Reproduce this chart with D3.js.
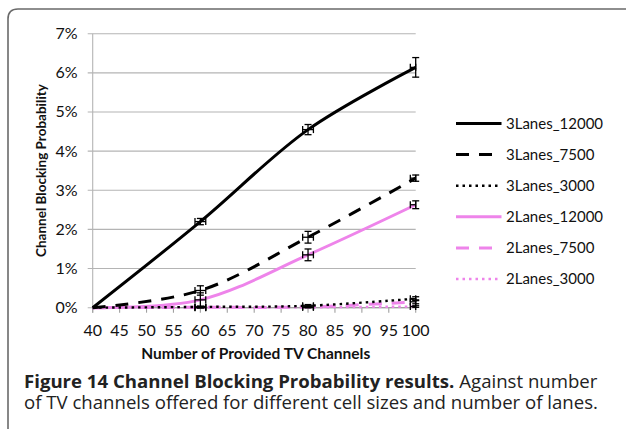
<!DOCTYPE html>
<html><head><meta charset="utf-8">
<script src="https://cdn.jsdelivr.net/npm/d3@7"></script>
<style>html,body{margin:0;padding:0;background:#fff;}svg{display:block;}</style>
</head><body>
<script>
const xValues = [40, 60, 80, 100];
const xTicks = [40,45,50,55,60,65,70,75,80,85,90,95,100];
const yTicks = [0,0.01,0.02,0.03,0.04,0.05,0.06,0.07];
const seriesNames = ["3Lanes_12000","3Lanes_7500","3Lanes_3000","2Lanes_12000","2Lanes_7500","2Lanes_3000"];
const s3L12000 = [0, 0.0220, 0.0455, 0.0614];
const s3L7500  = [0, 0.0044, 0.0180, 0.0331];
const s3L3000  = [0, 0.0002, 0.0005, 0.0023];
const s2L12000 = [0, 0.0020, 0.0135, 0.0263];
const s2L7500  = [0, 0.0001, 0.0002, 0.0015];
const s2L3000  = [0, 0.0000, 0.0001, 0.0003];
const e3L12000 = [0, 0.0008, 0.0013, 0.0025];
const e3L7500  = [0, 0.0012, 0.0015, 0.0008];
const e3L3000  = [0, 0.0002, 0.0003, 0.0005];
const e2L12000 = [0, 0.0018, 0.0015, 0.0010];
const e2L7500  = [0, 0.0002, 0.0002, 0.0005];
const e2L3000  = [0, 0.0001, 0.0001, 0.0002];
const xErr = 1.0;
const xTitle = "Number of Provided TV Channels";
const yTitle = "Channel Blocking Probability";
const captionBold = "Figure 14 Channel Blocking Probability results.";
const captionRest1 = "Against number";
const captionLine2 = "of TV channels offered for different cell sizes and number of lanes.";

const BLACK = "#000", PINK = "#ee84ea";
const styles = [
  {c:BLACK, w:3, d:null, len:45.5},
  {c:BLACK, w:3, d:"13,10", len:36},
  {c:BLACK, w:2.4, d:"2.5,4", len:45.5},
  {c:PINK, w:3, d:null, len:45.5},
  {c:PINK, w:3, d:"13,10", len:36},
  {c:PINK, w:2.4, d:"2.5,4", len:45.5}
];
const values = [s3L12000, s3L7500, s3L3000, s2L12000, s2L7500, s2L3000];
const errs = [e3L12000, e3L7500, e3L3000, e2L12000, e2L7500, e2L3000];

const W = 626, H = 429;
const svg = d3.select("body").append("svg").attr("width", W).attr("height", H);
const FONT = "Lato, 'Open Sans', sans-serif";

// frame
svg.append("path")
  .attr("d", "M8,429 L8,19 Q8,9 18,9 L626,9")
  .attr("fill","none").attr("stroke","#6a6a6a").attr("stroke-width",1.6);

const x = d3.scaleLinear().domain([40,100]).range([92.7, 415.7]);
const y = d3.scaleLinear().domain([0,0.07]).range([307.7, 33.7]);

// gridlines
svg.append("g").selectAll("line").data(yTicks).join("line")
  .attr("x1", x(40)-5).attr("x2", x(100)).attr("y1", d=>y(d)).attr("y2", d=>y(d))
  .attr("stroke","#b4b4b4").attr("stroke-width",1.1);
svg.append("line").attr("x1",x(40)).attr("x2",x(40)).attr("y1",y(0.07)).attr("y2",y(0)+5)
  .attr("stroke","#b4b4b4").attr("stroke-width",1.1);
svg.append("line").attr("x1",x(40)).attr("x2",x(100)).attr("y1",y(0)).attr("y2",y(0))
  .attr("stroke","#a0a0a0").attr("stroke-width",1.2);
svg.append("g").selectAll("line").data(xTicks).join("line")
  .attr("x1", d=>x(d)).attr("x2", d=>x(d)).attr("y1", y(0)).attr("y2", y(0)+5)
  .attr("stroke","#a0a0a0").attr("stroke-width",1.1);

// tick labels
svg.append("g").selectAll("text").data(yTicks).join("text")
  .attr("x", 77.5).attr("y", d=>y(d)+5.5).attr("text-anchor","end")
  .attr("font-family",FONT).attr("font-size",16).attr("fill","#111")
  .text(d=>d3.format(".0%")(d));
svg.append("g").selectAll("text").data(xTicks).join("text")
  .attr("x", d=>x(d)).attr("y", 336).attr("text-anchor","middle")
  .attr("font-family",FONT).attr("font-size",16).attr("fill","#111")
  .text(d=>d);

// axis titles
svg.append("text").attr("x", x(70)+1.5).attr("y", 358.5).attr("text-anchor","middle")
  .attr("font-family",FONT).attr("font-size",15.5).attr("font-weight","bold").attr("fill","#111")
  .text(xTitle);
svg.append("text").attr("transform","translate(46,170.5) rotate(-90)").attr("text-anchor","middle")
  .attr("font-family",FONT).attr("font-size",13.5).attr("font-weight","bold").attr("fill","#111")
  .text(yTitle);

// lines
const line = d3.line().x(d=>x(d[0])).y(d=>y(d[1])).curve(d3.curveCatmullRom.alpha(0.5));
[5,4,3,2,1,0].forEach(i=>{
  const pts = xValues.map((xv,k)=>[xv, values[i][k]]);
  svg.append("path").attr("d", line(pts)).attr("fill","none")
    .attr("stroke", styles[i].c).attr("stroke-width", styles[i].w)
    .attr("stroke-dasharray", styles[i].d);
});

// error bars
const eb = svg.append("g").attr("stroke","#000").attr("stroke-width",1.3).attr("fill","none");
values.forEach((vals,i)=>{
  xValues.forEach((xv,k)=>{
    if (k===0) return;
    const v = vals[k], e = errs[i][k];
    const cx = x(xv), cy = y(v);
    const y1 = y(v+e), y2 = y(Math.max(0,v-e));
    eb.append("line").attr("x1",cx).attr("x2",cx).attr("y1",y1).attr("y2",y2);
    eb.append("line").attr("x1",cx-3.5).attr("x2",cx+3.5).attr("y1",y1).attr("y2",y1);
    eb.append("line").attr("x1",cx-3.5).attr("x2",cx+3.5).attr("y1",y2).attr("y2",y2);
    const x1 = x(xv-xErr), x2 = x(Math.min(100, xv+xErr));
    eb.append("line").attr("x1",x1).attr("x2",x2).attr("y1",cy).attr("y2",cy);
    eb.append("line").attr("x1",x1).attr("x2",x1).attr("y1",cy-3.5).attr("y2",cy+3.5);
    eb.append("line").attr("x1",x2).attr("x2",x2).attr("y1",cy-3.5).attr("y2",cy+3.5);
  });
});

// legend
const lg = svg.append("g");
seriesNames.forEach((name,i)=>{
  const ly = 123.5 + i*31.1;
  lg.append("line").attr("x1",456).attr("x2",456+styles[i].len).attr("y1",ly).attr("y2",ly)
    .attr("stroke",styles[i].c).attr("stroke-width",styles[i].w).attr("stroke-dasharray",styles[i].d);
  lg.append("text").attr("x",506).attr("y",ly+5.2)
    .attr("font-family",FONT).attr("font-size",15).attr("fill","#111").text(name);
});

// caption
const CF = "'Open Sans', 'Noto Sans', sans-serif";
const CS = 18.6;
const tb = svg.append("text").attr("x",24).attr("y",388).attr("font-family",CF).attr("font-size",CS)
  .attr("font-weight","bold").attr("fill","#222").text(captionBold);
const bw = tb.node().getComputedTextLength();
svg.append("text").attr("x",24 + bw + CS*0.27).attr("y",388).attr("font-family",CF).attr("font-size",CS)
  .attr("fill","#222").text(captionRest1);
svg.append("text").attr("x",24).attr("y",409).attr("font-family",CF).attr("font-size",CS).attr("fill","#222")
  .text(captionLine2);
</script>
</body></html>
